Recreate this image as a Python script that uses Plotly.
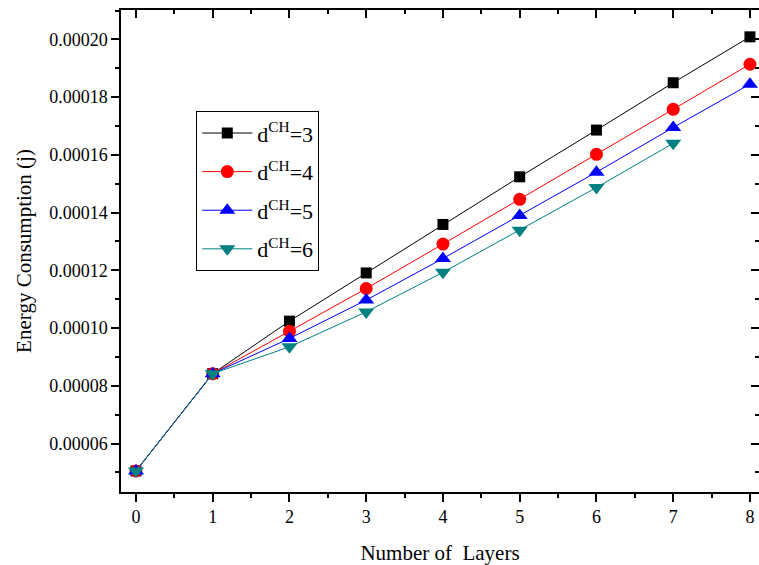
import plotly.graph_objects as go

layers = [0, 1, 2, 3, 4, 5, 6, 7, 8]
layers_d6 = [0, 1, 2, 3, 4, 5, 6, 7]

e_d3 = [0.0000505, 0.0000842, 0.0001024, 0.0001191, 0.0001359, 0.0001524, 0.0001686, 0.0001850, 0.0002009]
e_d4 = [0.0000505, 0.0000842, 0.0000989, 0.0001137, 0.0001291, 0.0001446, 0.0001602, 0.0001758, 0.0001914]
e_d5 = [0.0000505, 0.0000842, 0.0000964, 0.0001097, 0.0001241, 0.0001390, 0.0001540, 0.0001695, 0.0001845]
e_d6 = [0.0000505, 0.0000842, 0.0000935, 0.0001056, 0.0001193, 0.0001339, 0.0001487, 0.0001640]

names = ["d<sup>CH</sup>=3", "d<sup>CH</sup>=4", "d<sup>CH</sup>=5", "d<sup>CH</sup>=6"]
colors = ["#000000", "#ff0000", "#0000ff", "#008080"]
symbols = ["square", "circle", "triangle-up", "triangle-down"]
sizes = [11, 13, 14, 14]

FONT = "Liberation Serif"

fig = go.Figure()
series = [(layers, e_d3), (layers, e_d4), (layers, e_d5), (layers_d6, e_d6)]
for i, ((xs, ys), n, c, s, sz) in enumerate(zip(series, names, colors, symbols, sizes)):
    fig.add_trace(go.Scatter(
        x=xs, y=ys, name=n, mode="lines+markers", legendgroup="g%d" % i,
        line=dict(color=c, width=1),
        marker=dict(symbol=s, size=sz, color=c, line=dict(width=0)),
    ))

xr = [-0.195, 8.118]
yr = [0.0000432, 0.0002102]

# invisible trace to anchor mirrored axes
fig.add_trace(go.Scatter(x=[None], y=[None], xaxis="x2", yaxis="y2", showlegend=False, hoverinfo="skip"))

axis_common = dict(showgrid=False, zeroline=False, showline=True, linecolor="black", linewidth=1.5,
                   tickcolor="black", tickwidth=1.5, ticklen=8)

fig.update_layout(
    width=759, height=565,
    margin=dict(l=121, r=0, t=10, b=73),
    paper_bgcolor="white", plot_bgcolor="white",
    font=dict(family=FONT, size=18, color="black"),
    showlegend=True,
    legend=dict(
        x=0.118, y=0.79, xanchor="left", yanchor="top",
        bordercolor="black", borderwidth=1, bgcolor="white",
        font=dict(family=FONT, size=22, color="black"),
        itemwidth=50, tracegroupgap=7,
    ),
    xaxis=dict(
        range=xr, tickmode="linear", tick0=0, dtick=1, ticks="outside",
        minor=dict(dtick=0.5, tick0=0, ticks="outside", ticklen=4, tickcolor="black", tickwidth=1.5),
        title=dict(text="Number of  Layers", font=dict(family=FONT, size=21), standoff=22),
        tickfont=dict(family=FONT, size=18),
        **axis_common,
    ),
    yaxis=dict(
        range=yr, tickmode="linear", tick0=0.00006, dtick=0.00002, ticks="outside",
        tickformat=".5f",
        minor=dict(dtick=0.00001, tick0=0.00005, ticks="outside", ticklen=4, tickcolor="black", tickwidth=1.5),
        title=dict(text="Energy Consumption (j)", font=dict(family=FONT, size=21), standoff=12),
        tickfont=dict(family=FONT, size=18),
        **axis_common,
    ),
    xaxis2=dict(
        overlaying="x", side="top", range=xr, tickmode="linear", tick0=0, dtick=1,
        ticks="inside", showticklabels=False,
        minor=dict(dtick=0.5, tick0=0, ticks="inside", ticklen=4, tickcolor="black", tickwidth=1.5),
        **axis_common,
    ),
    yaxis2=dict(
        overlaying="y", side="right", range=yr, tickmode="linear", tick0=0.00006, dtick=0.00002,
        ticks="inside", showticklabels=False,
        minor=dict(dtick=0.00001, tick0=0.00005, ticks="inside", ticklen=4, tickcolor="black", tickwidth=1.5),
        **axis_common,
    ),
)

fig.write_html("out.html")
